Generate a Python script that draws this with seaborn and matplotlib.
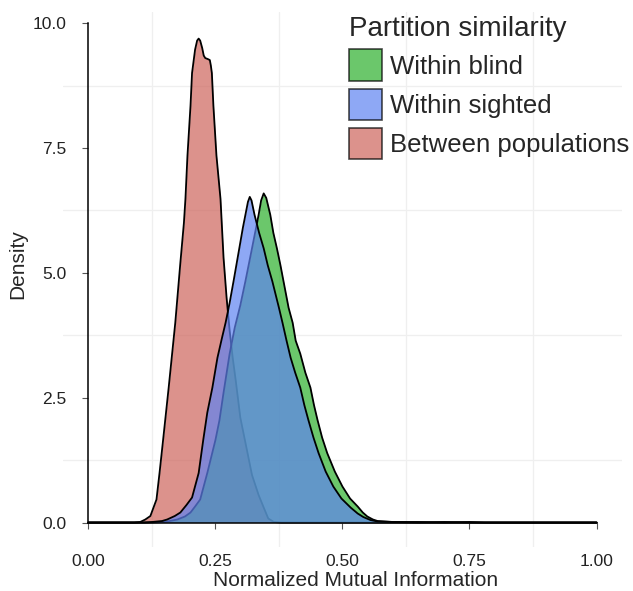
import numpy as np
import pandas as pd
import seaborn as sns
import matplotlib.pyplot as plt
from matplotlib.patches import Patch
from matplotlib.ticker import MultipleLocator

# density curves
between_x = [0.0, 0.09, 0.102, 0.112, 0.122, 0.134, 0.140, 0.147, 0.158, 0.171, 0.181, 0.188,
             0.191, 0.195, 0.201, 0.204, 0.210, 0.214, 0.217, 0.220, 0.224, 0.227, 0.230, 0.235,
             0.239, 0.241, 0.243, 0.246, 0.252, 0.260, 0.266, 0.272, 0.278, 0.284, 0.290, 0.299,
             0.309, 0.322, 0.335, 0.345, 0.354, 0.365, 0.38, 1.0]
between_y = [0.0, 0.0, 0.01, 0.06, 0.13, 0.46, 0.99, 1.65, 2.7, 4.0, 5.2, 6.0,
             6.48, 7.35, 8.35, 9.0, 9.47, 9.65, 9.69, 9.65, 9.5, 9.35, 9.3, 9.28,
             9.26, 9.15, 9.0, 8.35, 7.35, 6.48, 5.3, 4.5, 3.84, 3.3, 2.84, 2.1,
             1.6, 0.95, 0.55, 0.3, 0.08, 0.01, 0.0, 0.0]

sighted_x = [0.0, 0.11, 0.125, 0.145, 0.155, 0.170, 0.181, 0.193, 0.204, 0.217, 0.226, 0.234,
             0.244, 0.254, 0.263, 0.270, 0.278, 0.286, 0.297, 0.304, 0.309, 0.314, 0.3176, 0.321,
             0.327, 0.336, 0.345, 0.353, 0.362, 0.375, 0.382, 0.390, 0.398, 0.407, 0.417, 0.425,
             0.433, 0.443, 0.453, 0.467, 0.482, 0.498, 0.516, 0.530, 0.541, 0.555, 0.569, 0.60,
             0.65, 0.70, 0.75, 1.0]
sighted_y = [0.0, 0.0, 0.01, 0.03, 0.06, 0.13, 0.2, 0.35, 0.5, 0.99, 1.65, 2.2,
             2.7, 3.3, 3.7, 4.0, 4.4, 4.85, 5.49, 5.9, 6.16, 6.42, 6.52, 6.45,
             6.16, 5.8, 5.49, 5.15, 4.83, 4.3, 4.0, 3.64, 3.3, 3.0, 2.7, 2.35,
             2.05, 1.7, 1.39, 1.02, 0.72, 0.48, 0.3, 0.18, 0.11, 0.05, 0.02, 0.01,
             0.0, 0.01, 0.0, 0.0]

blind_x = [0.0, 0.12, 0.15, 0.175, 0.190, 0.201, 0.210, 0.220, 0.234, 0.250, 0.258, 0.266,
           0.278, 0.288, 0.299, 0.309, 0.322, 0.330, 0.335, 0.340, 0.345, 0.350, 0.358, 0.364,
           0.371, 0.378, 0.384, 0.394, 0.402, 0.408, 0.417, 0.427, 0.437, 0.444, 0.451, 0.460,
           0.470, 0.485, 0.500, 0.515, 0.530, 0.540, 0.549, 0.560, 0.569, 0.60, 0.65, 0.70,
           0.75, 0.78, 1.0]
blind_y = [0.0, 0.0, 0.01, 0.06, 0.12, 0.2, 0.32, 0.46, 0.99, 1.65, 2.05, 2.6,
           3.38, 3.9, 4.35, 4.83, 5.49, 5.9, 6.16, 6.45, 6.59, 6.5, 6.16, 5.8,
           5.49, 5.15, 4.83, 4.3, 4.0, 3.64, 3.38, 3.0, 2.7, 2.35, 2.05, 1.7,
           1.39, 1.02, 0.72, 0.48, 0.32, 0.2, 0.12, 0.06, 0.03, 0.01, 0.01, 0.0,
           0.01, 0.0, 0.0]

groups = ["Within blind", "Within sighted", "Between populations"]
colors = {"Within blind": "#2db02d", "Within sighted": "#5f83f1", "Between populations": "#ce645b"}

df = pd.concat([
    pd.DataFrame({"nmi": between_x, "density": between_y, "group": "Between populations"}),
    pd.DataFrame({"nmi": blind_x, "density": blind_y, "group": "Within blind"}),
    pd.DataFrame({"nmi": sighted_x, "density": sighted_y, "group": "Within sighted"}),
])

sns.set_style("white")
plt.rcParams['font.family'] = ['Liberation Sans', 'DejaVu Sans']

fig = plt.figure(figsize=(6.33, 5.91), dpi=100)
ax = fig.add_axes([0.0995, 0.0745, 0.883, 0.905])

# draw in order: red first, then green, blue on top
z = 2
for g in ["Between populations", "Within blind", "Within sighted"]:
    d = df[df["group"] == g]
    ax.fill_between(d["nmi"], d["density"], color=colors[g], alpha=0.7, lw=0, zorder=z)
    sns.lineplot(data=d, x="nmi", y="density", color="black", lw=1.3, ax=ax, zorder=z + 1)
    z += 2

ax.set_xlim(-0.05, 1.05)
ax.set_ylim(-0.49, 10.22)
ax.xaxis.set_major_locator(MultipleLocator(0.25))
ax.yaxis.set_major_locator(MultipleLocator(2.5))
ax.xaxis.set_minor_locator(MultipleLocator(0.25, offset=0.125))
ax.yaxis.set_minor_locator(MultipleLocator(2.5, offset=1.25))
ax.xaxis.set_major_formatter(lambda v, p: f"{v:.2f}")
ax.yaxis.set_major_formatter(lambda v, p: f"{v:.1f}")
ax.grid(False)
ax.grid(which="minor", color="#efefef", lw=0.9)
ax.set_axisbelow(True)

for s in ["top", "right"]:
    ax.spines[s].set_visible(False)
ax.spines["left"].set_bounds(0, 10)
ax.spines["bottom"].set_bounds(0, 1)
ax.spines["left"].set_position(("data", 0))
ax.spines["bottom"].set_position(("data", 0))
for s in ["left", "bottom"]:
    ax.spines[s].set_color("black")
    ax.spines[s].set_linewidth(1.1)
    ax.spines[s].set_zorder(10)

ax.tick_params(which="major", bottom=True, left=True, direction="out", length=4, width=0.8,
               color="#555555", labelsize=12.5, labelcolor="#222222")
ax.tick_params(axis="x", which="major", pad=19)
ax.tick_params(axis="y", which="major", pad=12)
ax.tick_params(which="minor", length=0)
ax.set_xlabel("Normalized Mutual Information", fontsize=15)
ax.set_ylabel("Density", fontsize=15)
ax.xaxis.set_label_coords(0.524, -0.044)
ax.yaxis.set_label_coords(-0.064, 0.529)

handles = [Patch(facecolor=colors[g], alpha=0.7, edgecolor="black", lw=1.2, label=g) for g in groups]
leg = ax.legend(handles=handles, title="Partition similarity", loc="upper right",
                bbox_to_anchor=(1.04, 1.022), frameon=False, fontsize=18.5, title_fontsize=20,
                handlelength=1.3, handleheight=1.5, handletextpad=0.3, labelspacing=0.3,
                borderaxespad=0.2)
leg._legend_box.align = "left"
for p in leg.get_patches():
    p.set_edgecolor("black")

plt.savefig("out.png", dpi=100)
